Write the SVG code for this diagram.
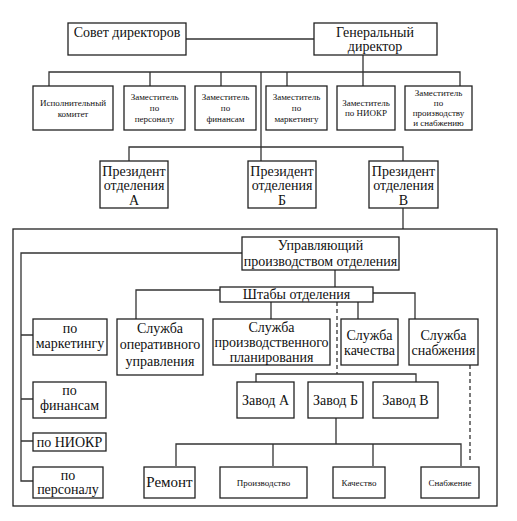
<svg xmlns="http://www.w3.org/2000/svg" width="517" height="521" viewBox="0 0 517 521" font-family="Liberation Serif, DejaVu Serif, serif">
<style>
.b{fill:#fff;stroke:#222;stroke-width:1.3}
.t{font-size:14px;fill:#111;text-anchor:middle}
.s{font-size:9px;fill:#111;text-anchor:middle}
.c{fill:none;stroke:#333;stroke-width:1.3}
.d{fill:none;stroke:#333;stroke-width:1.3;stroke-dasharray:4,3}
</style>
<rect width="517" height="521" fill="#fff"/>
<g id="connectors">
<path class="c" d="M186,39H314"/>
<path class="c" d="M363,55V86M49,86V72H460V86M150,72V86M221,72V86M287,72V86"/>
<path class="c" d="M261,72V161M129,161V147H403V161M403,208V229"/>
<path class="c" d="M242,253H21V481H33M21,335H33M21,399H33M21,441H33"/>
<path class="c" d="M335,270V287"/>
<path class="c" d="M220,290H136V319M373,293H415V319M271,302V319M358,302V319"/>
<path class="d" d="M337,302V374"/>
<path class="c" d="M256,382V374H416V382"/>
<path class="c" d="M336,418V444M176,466V444H461V466M273,444V466M373,444V466"/>
<path class="d" d="M470,365V462"/>
</g>
<rect x="13" y="229" width="484" height="277" fill="none" stroke="#222" stroke-width="1.3"/>
<g id="sovet"><rect class="b" x="68" y="23" width="118" height="32"/><text class="t" x="127" y="37" font-family="Liberation Serif">Совет директоров</text></g>
<g id="gendir"><rect class="b" x="314" y="23" width="123" height="32"/><text class="t" x="375" y="37">Генеральный</text><text class="t" x="375" y="51">директор</text></g>
<g id="ispkom"><rect class="b" x="33" y="86" width="80" height="44"/><text class="s" x="73" y="106">Исполнительный</text><text class="s" x="73" y="117">комитет</text></g>
<g id="zam-pers"><rect class="b" x="124" y="86" width="61" height="44"/><text class="s" x="154.5" y="100">Заместитель</text><text class="s" x="154.5" y="111">по</text><text class="s" x="154.5" y="122">персоналу</text></g>
<g id="zam-fin"><rect class="b" x="195" y="86" width="61" height="44"/><text class="s" x="225.5" y="100">Заместитель</text><text class="s" x="225.5" y="111">по</text><text class="s" x="225.5" y="122">финансам</text></g>
<g id="zam-mark"><rect class="b" x="266" y="86" width="61" height="44"/><text class="s" x="296.5" y="100">Заместитель</text><text class="s" x="296.5" y="111">по</text><text class="s" x="296.5" y="122">маркетингу</text></g>
<g id="zam-niokr"><rect class="b" x="337" y="86" width="58" height="44"/><text class="s" x="366" y="106">Заместитель</text><text class="s" x="366" y="116">по НИОКР</text></g>
<g id="zam-proizv"><rect class="b" x="405" y="86" width="67" height="44"/><text class="s" x="438.5" y="96">Заместитель</text><text class="s" x="438.5" y="106">по</text><text class="s" x="438.5" y="116">производству</text><text class="s" x="438.5" y="126">и снабжению</text></g>
<g id="pres-a"><rect class="b" x="100" y="161" width="68" height="47"/><text class="t" x="134" y="176">Президент</text><text class="t" x="134" y="190">отделения</text><text class="t" x="134" y="205">А</text></g>
<g id="pres-b"><rect class="b" x="248" y="161" width="68" height="47"/><text class="t" x="282" y="176">Президент</text><text class="t" x="282" y="190">отделения</text><text class="t" x="282" y="205">Б</text></g>
<g id="pres-v"><rect class="b" x="369" y="161" width="69" height="47"/><text class="t" x="403.5" y="176">Президент</text><text class="t" x="403.5" y="190">отделения</text><text class="t" x="403.5" y="205">В</text></g>
<g id="upr"><rect class="b" x="242" y="237" width="157" height="33"/><text class="t" x="320.5" y="250">Управляющий</text><text class="t" x="320.5" y="266">производством отделения</text></g>
<g id="shtab"><rect class="b" x="220" y="287" width="153" height="15"/><text class="t" x="296.5" y="299">Штабы отделения</text></g>
<g id="sl-oper"><rect class="b" x="117" y="319" width="86" height="56"/><text class="t" x="160" y="333">Служба</text><text class="t" x="160" y="349">оперативного</text><text class="t" x="160" y="366">управления</text></g>
<g id="sl-plan"><rect class="b" x="213" y="319" width="117" height="46"/><text class="t" x="271.5" y="332">Служба</text><text class="t" x="271.5" y="347">производственного</text><text class="t" x="271.5" y="362">планирования</text></g>
<g id="sl-kach"><rect class="b" x="341" y="319" width="57" height="46"/><text class="t" x="369.5" y="340">Служба</text><text class="t" x="369.5" y="355">качества</text></g>
<g id="sl-snab"><rect class="b" x="409" y="319" width="69" height="46"/><text class="t" x="443.5" y="340">Служба</text><text class="t" x="443.5" y="355">снабжения</text></g>
<g id="po-mark"><rect class="b" x="33" y="319" width="74" height="36"/><text class="t" x="70" y="333">по</text><text class="t" x="70" y="348">маркетингу</text></g>
<g id="po-fin"><rect class="b" x="33" y="382" width="73" height="36"/><text class="t" x="69.5" y="395">по</text><text class="t" x="69.5" y="410">финансам</text></g>
<g id="po-niokr"><rect class="b" x="33" y="433" width="73" height="18"/><text class="t" x="69.5" y="447">по НИОКР</text></g>
<g id="po-pers"><rect class="b" x="33" y="467" width="70" height="31"/><text class="t" x="68" y="480">по</text><text class="t" x="68" y="494">персоналу</text></g>
<g id="zavod-a"><rect class="b" x="237" y="382" width="57" height="36"/><text class="t" x="265.5" y="405">Завод А</text></g>
<g id="zavod-b"><rect class="b" x="308" y="382" width="55" height="36"/><text class="t" x="335.5" y="405">Завод Б</text></g>
<g id="zavod-v"><rect class="b" x="373" y="382" width="65" height="36"/><text class="t" x="405.5" y="405">Завод В</text></g>
<g id="remont"><rect class="b" x="144" y="467" width="51" height="31"/><text class="t" x="169.5" y="487" style="font-size:15px">Ремонт</text></g>
<g id="proizvodstvo"><rect class="b" x="220" y="467" width="87" height="31"/><text class="s" x="263.5" y="486">Производство</text></g>
<g id="kachestvo"><rect class="b" x="333" y="467" width="52" height="31"/><text class="s" x="359" y="486">Качество</text></g>
<g id="snabzhenie"><rect class="b" x="421" y="467" width="58" height="31"/><text class="s" x="450" y="486">Снабжение</text></g>
</svg>
